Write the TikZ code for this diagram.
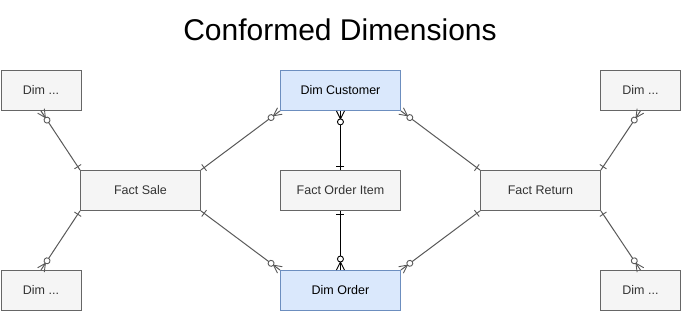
\documentclass[tikz,border=0pt]{standalone}
\usepackage{fontspec}
\setmainfont{Liberation Sans}
\usetikzlibrary{decorations.markings}
\definecolor{boxfill}{HTML}{F5F5F5}
\definecolor{boxline}{HTML}{666666}
\definecolor{bluefill}{HTML}{DAE8FC}
\definecolor{blueline}{HTML}{6C8EBF}
\definecolor{txt}{HTML}{333333}
\definecolor{edge}{HTML}{595959}
\tikzset{
  ent/.style={draw=boxline, fill=boxfill, line width=0.9pt, minimum width=120pt, minimum height=40pt,
    inner sep=0pt, text=txt, font=\fontsize{12.5}{14}\selectfont, anchor=north west},
  dimbox/.style={ent, minimum width=80pt},
  bluebox/.style={ent, draw=blueline, fill=bluefill, text=black},
  rel/.style={line width=1pt, draw=#1,
    postaction={decorate, decoration={markings,
      mark=at position 0 with {\draw[line width=0.9pt,#1] (4pt,-4pt) -- (4pt,4pt);},
      mark=at position 1 with {\draw[line width=0.9pt,#1] (-8pt,0) -- (0,4pt) (-8pt,0) -- (0,-4pt);
        \draw[line width=0.9pt,#1,fill=white] (-11pt,0) circle (3pt);}}}},
  rel/.default={edge}
}
\begin{document}
\begin{tikzpicture}[x=1pt,y=-1pt]
\useasboundingbox (0,0) rectangle (681,311);
\node[font=\fontsize{30}{33}\selectfont, text=black] (title) at (340,30) {Conformed Dimensions};
\node[dimbox] (dtl) at (0.5,70) {Dim ...};
\node[dimbox] (dbl) at (0.5,270) {Dim ...};
\node[dimbox] (dtr) at (600,70) {Dim ...};
\node[dimbox] (dbr) at (600,270) {Dim ...};
\node[bluebox] (dcust) at (280,70) {Dim Customer};
\node[bluebox] (dord) at (280,270) {Dim Order};
\node[ent] (fsale) at (80,170) {Fact Sale};
\node[ent] (foi) at (280,170) {Fact Order Item};
\node[ent] (fret) at (480,170) {Fact Return};
\draw[rel] (fsale.north west) -- (dtl.south);
\draw[rel] (fsale.south west) -- (dbl.north);
\draw[rel] (fsale.north east) -- (dcust.south west);
\draw[rel] (fsale.south east) -- (dord.north west);
\draw[rel=black] (foi.north) -- (dcust.south);
\draw[rel=black] (foi.south) -- (dord.north);
\draw[rel] (fret.north west) -- (dcust.south east);
\draw[rel] (fret.south west) -- (dord.north east);
\draw[rel] (fret.north east) -- (dtr.south);
\draw[rel] (fret.south east) -- (dbr.north);
\end{tikzpicture}
\end{document}
